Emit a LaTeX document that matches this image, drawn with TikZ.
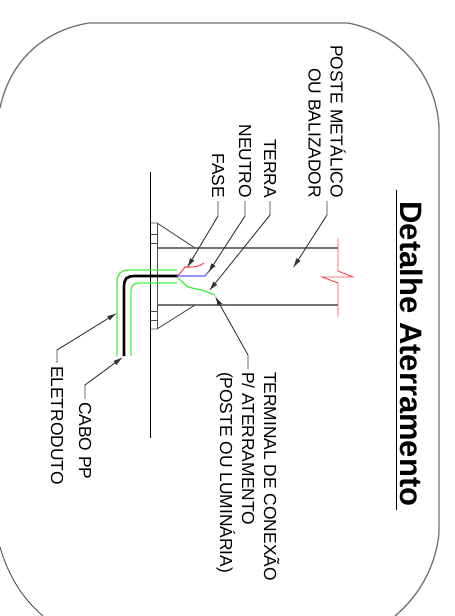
\documentclass[tikz,border=0pt]{standalone}
\usepackage{fontspec}
\setmainfont{Liberation Sans}
\usetikzlibrary{positioning, arrows.meta}
\definecolor{wirered}{RGB}{255,70,80}
\definecolor{wireblue}{RGB}{90,90,255}
\definecolor{wiregreen}{RGB}{70,240,70}
\tikzset{
    outline/.style={draw=black!70, line width=0.9pt},
    contour/.style={draw=black!55, line width=1.3pt},
    leader/.style={draw=black!80, line width=0.9pt},
    pointer/.style={leader, -{Latex[length=10pt,width=5pt]}},
    tag/.style={rotate=-90, font=\fontsize{17.4pt}{22pt}\selectfont, inner sep=0pt, outer sep=3pt},
    vein/.style={draw=wiregreen, line width=1.3pt},
}
\begin{document}
\begin{tikzpicture}[x=1pt, y=-1pt]
   \useasboundingbox (0,0) rectangle (455,616);
   % frame
   \draw[contour] (0,108) .. controls (10,60) and (45,30) .. (89,23) -- (348,23)
      .. controls (395,32) and (435,70) .. (439,126) -- (439,533)
      .. controls (436,565) and (420,595) .. (395,616);
   \draw[outline] (0,547) .. controls (8,575) and (22,598) .. (43,616);
   % title
   \node[rotate=-90, inner sep=0pt, font=\bfseries\fontsize{31pt}{34pt}\selectfont] (title) at (412,354) {Detalhe Aterramento};
   \draw[black, line width=1pt] (396,190) -- (396,510);
   % ground and post
   \draw[black, line width=1pt] (150,172) -- (150,438);
   \draw[contour] (157,248) -- (338,248);
   \draw[contour] (157,305) -- (338,305);
   \draw[outline] (157,223) -- (157,329);
   \draw[outline] (150,223) -- (157,223) -- (195,248);
   \draw[outline] (150,329) -- (157,329) -- (195,305);
   \foreach \y in {234,243,311,320} {
      \draw[outline] (150,\y) -- (157,\y);
   }
   % break mark
   \draw[wirered, line width=0.9pt] (338,238) -- (338,271) -- (353,277) -- (322,277) -- (338,283) -- (338,317);
   % conductors
   \draw[vein] (177,270) -- (129,270) .. controls (121,270) and (117,274) .. (117,282) -- (117,356);
   \draw[vein] (177,283) -- (139,283) .. controls (134,283) and (131,286) .. (131,291) -- (131,356);
   \draw[black, line width=2.6pt] (178,276) -- (134,276) .. controls (127,276) and (124,279) .. (124,286) -- (124,356);
   \draw[wirered, line width=1.1pt] (177,277) -- (185,267) -- (190,267) .. controls (196,267) and (200,266) .. (204,263);
   \draw[wireblue, line width=1.1pt] (177,276) -- (205,276) -- (209,271);
   \draw[vein] (178,278) -- (188,287) -- (205,291) -- (215,295);
   % labels
   \node[tag, anchor=east, align=right] (poste) at (327,201) {POSTE METÁLICO\\OU BALIZADOR};
   \node[tag, anchor=east] (terra) at (270,201) {TERRA};
   \node[tag, anchor=east] (neutro) at (245,201) {NEUTRO};
   \node[tag, anchor=east] (fase) at (218,201) {FASE};
   \node[tag, anchor=west, align=left] (terminal) at (248,369) {TERMINAL DE CONEXÃO\\P/ ATERRAMENTO\\(POSTE OU LUMINÁRIA)};
   \node[tag, anchor=west] (cabo) at (85,399) {CABO PP};
   \node[tag, anchor=west] (eletroduto) at (57,363) {ELETRODUTO};
   \coordinate (postetip) at (293,268);
   \coordinate (terratip) at (209,291);
   \coordinate (neutrotip) at (208,273);
   \coordinate (fasetip) at (187,268);
   \coordinate (terminaltip) at (215,296);
   \coordinate (cabotip) at (123,357);
   \coordinate (eletrodutotip) at (117,313);
   % leaders
   \draw[pointer] (poste.east) -- ++(0,14) -- (postetip);
   \draw[pointer] (terra.east) -- ++(0,14) -- (terratip);
   \draw[pointer] (neutro.east) -- ++(0,15) -- (neutrotip);
   \draw[pointer] (fase.east) -- ++(0,15) -- (fasetip);
   \draw[pointer] (terminal.west) -- ++(0,-14) -- (terminaltip);
   \draw[pointer] (cabo.west) -- ++(0,-14) -- (cabotip);
   \draw[pointer] (eletroduto.west) -- ++(0,-13) -- (eletrodutotip);
\end{tikzpicture}
\end{document}
